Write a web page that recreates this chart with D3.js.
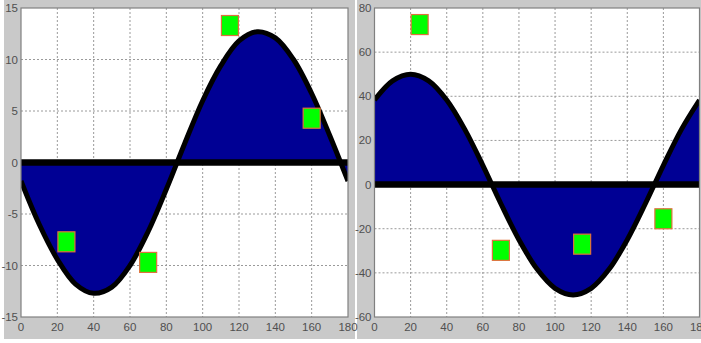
<!DOCTYPE html>
<html><head><meta charset="utf-8">
<script src="https://cdn.jsdelivr.net/npm/d3@7/dist/d3.min.js"></script>
<style>
html,body{margin:0;padding:0;background:#fff;}
svg{display:block;}
text{font-family:"Liberation Sans Narrow","Liberation Sans",Arial,sans-serif;font-size:11.5px;fill:#505050;}
</style></head>
<body>
<svg id="chart" width="701" height="343"></svg>
<script>
// ---- data ----
const xTicks = [0, 20, 40, 60, 80, 100, 120, 140, 160, 180];
const curveX = [0, 10, 20, 30, 40, 50, 60, 70, 80, 90, 100, 110, 120, 130, 140, 150, 160, 170, 180];
const leftCurve = [-1.8, -6.0, -9.4, -11.8, -12.7, -12.1, -10.0, -6.7, -2.6, 1.8, 6.0, 9.4, 11.8, 12.7, 12.1, 10.0, 6.7, 2.6, -1.8];
const rightCurve = [38.3, 47.0, 50.0, 47.0, 38.3, 25.0, 8.7, -8.7, -25.0, -38.3, -47.0, -50.0, -47.0, -38.3, -25.0, -8.7, 8.7, 25.0, 38.3];
const markerX = [25, 70, 115, 160];
const leftMarkers = [-7.7, -9.7, 13.3, 4.3];
const rightMarkers = [72.5, -29.8, -27.0, -15.5];
const leftYTicks = [-15, -10, -5, 0, 5, 10, 15];
const rightYTicks = [-60, -40, -20, 0, 20, 40, 60, 80];

const svg = d3.select("#chart");
// backgrounds
svg.append("rect").attr("x", 0).attr("y", 0).attr("width", 701).attr("height", 343).attr("fill", "#ffffff");
svg.append("rect").attr("x", 4).attr("y", 0).attr("width", 351).attr("height", 339).attr("fill", "#c9c9c9");
svg.append("rect").attr("x", 357).attr("y", 0).attr("width", 344).attr("height", 339).attr("fill", "#c9c9c9");

function panel(id, left, right, top, bottom, yDomain, yTicks, values, markers) {
  const x = d3.scaleLinear().domain([0, 180]).range([left, right]);
  const y = d3.scaleLinear().domain(yDomain).range([bottom, top]);
  const g = svg.append("g");
  g.append("rect").attr("x", left).attr("y", top).attr("width", right - left).attr("height", bottom - top).attr("fill", "#fff");
  // grid
  g.append("g").selectAll("line").data(xTicks.slice(1, -1)).join("line")
    .attr("x1", d => x(d)).attr("x2", d => x(d)).attr("y1", top).attr("y2", bottom)
    .attr("stroke", "#9a9a9a").attr("stroke-width", 1).attr("stroke-dasharray", "2,2");
  g.append("g").selectAll("line").data(yTicks.slice(1, -1)).join("line")
    .attr("x1", left).attr("x2", right).attr("y1", d => y(d)).attr("y2", d => y(d))
    .attr("stroke", "#9a9a9a").attr("stroke-width", 1).attr("stroke-dasharray", "2,2");
  // clip
  const cid = "clip" + id;
  svg.append("clipPath").attr("id", cid).append("rect")
    .attr("x", left).attr("y", top).attr("width", right - left).attr("height", bottom - top);
  const pts = curveX.map((d, i) => [d, values[i]]);
  const cg = g.append("g").attr("clip-path", `url(#${cid})`);
  const crv = d3.curveCatmullRom.alpha(0.5);
  cg.append("path").datum(pts)
    .attr("d", d3.area().x(d => x(d[0])).y0(y(0)).y1(d => y(d[1])).curve(crv))
    .attr("fill", "#000094");
  cg.append("path").datum(pts)
    .attr("d", d3.line().x(d => x(d[0])).y(d => y(d[1])).curve(crv))
    .attr("fill", "none").attr("stroke", "#000").attr("stroke-width", 5).attr("stroke-linejoin", "round");
  cg.append("line").attr("x1", left).attr("x2", right).attr("y1", y(0)).attr("y2", y(0))
    .attr("stroke", "#000").attr("stroke-width", 6.5);
  // frame
  g.append("rect").attr("x", left).attr("y", top).attr("width", right - left).attr("height", bottom - top)
    .attr("fill", "none").attr("stroke", "#808080").attr("stroke-width", 1.2);
  // markers
  g.append("g").selectAll("rect").data(markerX.map((d, i) => [d, markers[i]])).join("rect")
    .attr("x", d => x(d[0]) - 8.5).attr("y", d => y(d[1]) - 10).attr("width", 17).attr("height", 20)
    .attr("fill", "#00ff00").attr("stroke", "#e0703c").attr("stroke-width", 1.2);
  // axis labels
  g.append("g").selectAll("text").data(xTicks).join("text")
    .attr("x", d => x(d)).attr("y", bottom + 14).attr("text-anchor", "middle").text(d => d);
  g.append("g").selectAll("text").data(yTicks).join("text")
    .attr("x", left - 3).attr("y", d => y(d) + 4).attr("text-anchor", "end").text(d => d);
}

panel("L", 21, 348, 8, 317, [-15, 15], leftYTicks, leftCurve, leftMarkers);
panel("R", 374.5, 699.5, 8, 317, [-60, 80], rightYTicks, rightCurve, rightMarkers);
</script>
</body></html>
